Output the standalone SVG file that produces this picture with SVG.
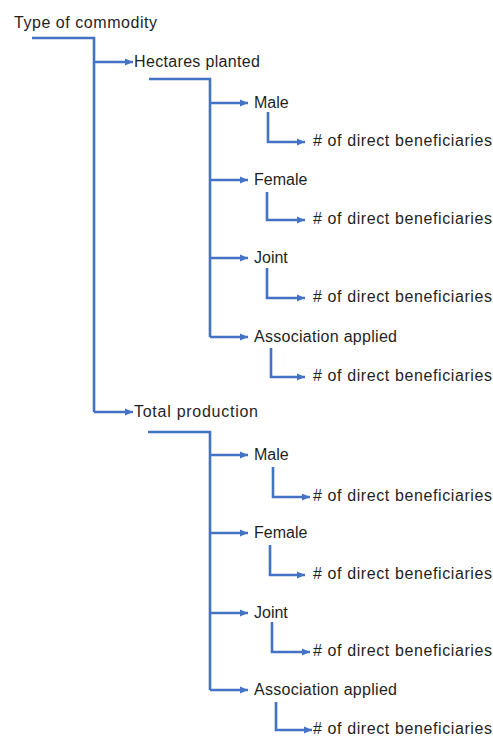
<svg xmlns="http://www.w3.org/2000/svg" width="493" height="737" viewBox="0 0 493 737">
<style>
text{font-family:"Liberation Sans",Arial,sans-serif;font-size:16px;fill:#1f1f1f}
.c path{fill:none;stroke:#4472C4;stroke-width:2.6;marker-end:url(#ah)}
.c path.n{marker-end:none}
</style>
<defs>
<marker id="ah" markerUnits="userSpaceOnUse" markerWidth="10" markerHeight="10" refX="8" refY="5" orient="auto">
<path d="M0,1.5 L8,5 L0,8.5 z" fill="#4472C4"/>
</marker>
</defs>
<rect width="493" height="737" fill="#fff"/>
<g class="c" id="connectors">
<path class="n" d="M32,38 H94 V412"/>
<path d="M94,62 H133"/>
<path d="M94,412 H133"/>
<path class="n" d="M149,79 H210 V337"/>
<path d="M210,103 H248"/>
<path d="M210,180 H248"/>
<path d="M210,258 H248"/>
<path d="M210,337 H248"/>
<path d="M268,112 V142 H305"/>
<path d="M267,192 V220 H305"/>
<path d="M267,268 V298 H305"/>
<path d="M271,348 V377 H305"/>
<path class="n" d="M148,432 H210 V690"/>
<path d="M210,455 H248"/>
<path d="M210,533 H248"/>
<path d="M210,613 H248"/>
<path d="M210,690 H248"/>
<path d="M273,467 V497 H310"/>
<path d="M270,545 V575 H305"/>
<path d="M272,622 V652 H310"/>
<path d="M276,702 V730 H312"/>
</g>
<g id="root"><text x="14" y="28" textLength="143">Type of commodity</text></g>
<g id="hectares"><text x="134" y="67" textLength="126">Hectares planted</text></g>
<g id="h-male"><text x="254" y="108">Male</text></g>
<g id="h-male-ben"><text x="313" y="146" textLength="179"># of direct beneficiaries</text></g>
<g id="h-female"><text x="254" y="185">Female</text></g>
<g id="h-female-ben"><text x="313" y="224" textLength="179"># of direct beneficiaries</text></g>
<g id="h-joint"><text x="254" y="263">Joint</text></g>
<g id="h-joint-ben"><text x="313" y="302" textLength="179"># of direct beneficiaries</text></g>
<g id="h-assoc"><text x="254" y="342" textLength="143">Association applied</text></g>
<g id="h-assoc-ben"><text x="313" y="381" textLength="179"># of direct beneficiaries</text></g>
<g id="total"><text x="134" y="417" textLength="124">Total production</text></g>
<g id="t-male"><text x="254" y="460">Male</text></g>
<g id="t-male-ben"><text x="313" y="501" textLength="179"># of direct beneficiaries</text></g>
<g id="t-female"><text x="254" y="538">Female</text></g>
<g id="t-female-ben"><text x="313" y="579" textLength="179"># of direct beneficiaries</text></g>
<g id="t-joint"><text x="254" y="618">Joint</text></g>
<g id="t-joint-ben"><text x="313" y="656" textLength="179"># of direct beneficiaries</text></g>
<g id="t-assoc"><text x="254" y="695" textLength="143">Association applied</text></g>
<g id="t-assoc-ben"><text x="313" y="734" textLength="179"># of direct beneficiaries</text></g>
</svg>
